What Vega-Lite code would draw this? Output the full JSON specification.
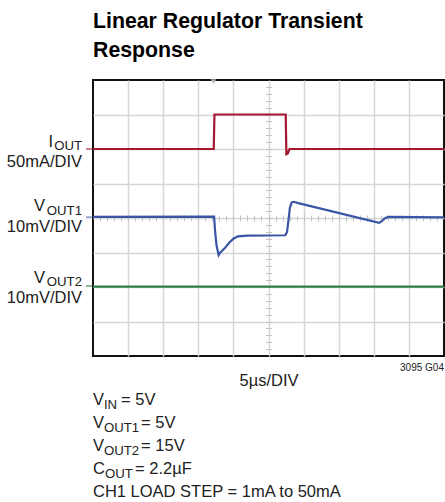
{
  "$schema": "https://vega.github.io/schema/vega-lite/v6.json",
  "width": 351,
  "height": 276,
  "autosize": "none",
  "padding": {"left": 93, "top": 80, "right": 1, "bottom": 146},
  "background": "white",
  "config": {
    "view": {"stroke": "#111111", "strokeWidth": 2},
    "text": {"font": "Liberation Sans, Arial, sans-serif", "color": "#222222", "baseline": "alphabetic"}
  },
  "datasets": {
    "traces": [
      {"ch": "IOUT", "t": 0, "v": 6.0},
      {"ch": "IOUT", "t": 3.44, "v": 6.0},
      {"ch": "IOUT", "t": 3.46, "v": 7.0},
      {"ch": "IOUT", "t": 5.49, "v": 7.0},
      {"ch": "IOUT", "t": 5.51, "v": 5.85},
      {"ch": "IOUT", "t": 5.55, "v": 5.87},
      {"ch": "IOUT", "t": 5.6, "v": 6.0},
      {"ch": "IOUT", "t": 10, "v": 6.0},
      {"ch": "VOUT1", "t": 0, "v": 4.03},
      {"ch": "VOUT1", "t": 3.45, "v": 4.04},
      {"ch": "VOUT1", "t": 3.48, "v": 3.6},
      {"ch": "VOUT1", "t": 3.52, "v": 3.2},
      {"ch": "VOUT1", "t": 3.58, "v": 2.92},
      {"ch": "VOUT1", "t": 3.63, "v": 3.0},
      {"ch": "VOUT1", "t": 3.75, "v": 3.12},
      {"ch": "VOUT1", "t": 3.88, "v": 3.28},
      {"ch": "VOUT1", "t": 4.0, "v": 3.4},
      {"ch": "VOUT1", "t": 4.13, "v": 3.47},
      {"ch": "VOUT1", "t": 4.4, "v": 3.49},
      {"ch": "VOUT1", "t": 5.48, "v": 3.5},
      {"ch": "VOUT1", "t": 5.53, "v": 3.6},
      {"ch": "VOUT1", "t": 5.57, "v": 3.95},
      {"ch": "VOUT1", "t": 5.61, "v": 4.3},
      {"ch": "VOUT1", "t": 5.66, "v": 4.45},
      {"ch": "VOUT1", "t": 5.72, "v": 4.47},
      {"ch": "VOUT1", "t": 5.85, "v": 4.43},
      {"ch": "VOUT1", "t": 8.15, "v": 3.86},
      {"ch": "VOUT1", "t": 8.22, "v": 3.9},
      {"ch": "VOUT1", "t": 8.3, "v": 3.98},
      {"ch": "VOUT1", "t": 8.4, "v": 4.03},
      {"ch": "VOUT1", "t": 10, "v": 4.02},
      {"ch": "VOUT2", "t": 0, "v": 2.01},
      {"ch": "VOUT2", "t": 10, "v": 2.01}
    ]
  },
  "layer": [
    {
      "data": {"name": "traces"},
      "mark": {"type": "line", "strokeWidth": 2.2, "interpolate": "linear"},
      "encoding": {
        "x": {
          "field": "t", "type": "quantitative",
          "scale": {"domain": [0, 10], "nice": false, "zero": false},
          "axis": {"orient": "bottom", "values": [1, 2, 3, 4, 5, 6, 7, 8, 9], "grid": true, "gridColor": "#d6d6d6", "gridWidth": 1.5, "domain": false, "ticks": false, "labels": false,
            "title": "5µs/DIV", "titleFont": "Liberation Sans, Arial, sans-serif", "titleFontSize": 16.5, "titleFontWeight": "normal", "titleColor": "#222222", "titlePadding": 16}
        },
        "y": {
          "field": "v", "type": "quantitative",
          "scale": {"domain": [0, 8], "nice": false, "zero": false},
          "axis": {"orient": "left", "values": [1, 2, 3, 4, 5, 6, 7], "grid": true, "gridColor": "#d6d6d6", "gridWidth": 1.5, "domain": false, "ticks": false, "labels": false, "title": null}
        },
        "color": {
          "field": "ch", "type": "nominal",
          "scale": {"domain": ["IOUT", "VOUT1", "VOUT2"], "range": ["#a3172f", "#3a55a5", "#2f7f47"]},
          "legend": null
        }
      }
    },
    {
      "data": {"values": [{}]},
      "mark": {"type": "point", "shape": "triangle-down", "filled": true, "color": "#b5b5b5", "size": 30, "opacity": 1},
      "encoding": {
        "x": {"datum": 3.43, "type": "quantitative",
          "axis": {"orient": "top", "offset": -141, "values": [0.2,0.4,0.6,0.8,1,1.2,1.4,1.6,1.8,2,2.2,2.4,2.6,2.8,3,3.2,3.4,3.6,3.8,4,4.2,4.4,4.6,4.8,5,5.2,5.4,5.6,5.8,6,6.2,6.4,6.6,6.8,7,7.2,7.4,7.6,7.8,8,8.2,8.4,8.6,8.8,9,9.2,9.4,9.6,9.8], "grid": false, "domain": false, "labels": false, "ticks": true, "tickSize": 6, "tickColor": "#c4c4c4", "tickWidth": 1, "title": null}},
        "y": {"datum": 7.95, "type": "quantitative",
          "axis": {"orient": "right", "offset": -178.5, "values": [0.2,0.4,0.6,0.8,1,1.2,1.4,1.6,1.8,2,2.2,2.4,2.6,2.8,3,3.2,3.4,3.6,3.8,4,4.2,4.4,4.6,4.8,5,5.2,5.4,5.6,5.8,6,6.2,6.4,6.6,6.8,7,7.2,7.4,7.6,7.8], "grid": false, "domain": false, "labels": false, "ticks": true, "tickSize": 6, "tickColor": "#c4c4c4", "tickWidth": 1, "title": null}}
      }
    },
    {
      "data": {"values": [{"ch": "IOUT", "v": 6.0}, {"ch": "VOUT1", "v": 4.02}, {"ch": "VOUT2", "v": 2.03}]},
      "mark": {"type": "rule", "strokeWidth": 2, "opacity": 0.55},
      "encoding": {
        "x": {"datum": -0.2, "type": "quantitative", "axis": null},
        "x2": {"datum": -0.03},
        "y": {"field": "v", "type": "quantitative", "axis": null},
        "color": {"field": "ch", "type": "nominal", "legend": null}
      }
    },
    {"data": {"values": [{}]}, "mark": {"type": "text", "text": "Linear Regulator Transient", "align": "left", "fontSize": 21.3, "fontWeight": "bold", "color": "#000000"},
      "encoding": {"x": {"datum": 0, "type": "quantitative", "axis": null}, "y": {"datum": 9.507, "type": "quantitative", "axis": null}}},
    {"data": {"values": [{}]}, "mark": {"type": "text", "text": "Response", "align": "left", "fontSize": 21.3, "fontWeight": "bold", "color": "#000000"},
      "encoding": {"x": {"datum": 0, "type": "quantitative", "axis": null}, "y": {"datum": 8.667, "type": "quantitative", "axis": null}}},
    {"data": {"values": [{}]}, "mark": {"type": "text", "text": "I", "align": "right", "fontSize": 16.5},
      "encoding": {"x": {"datum": -1.14, "type": "quantitative", "axis": null}, "y": {"datum": 6.07, "type": "quantitative", "axis": null}}},
    {"data": {"values": [{}]}, "mark": {"type": "text", "text": "OUT", "align": "right", "fontSize": 13.2},
      "encoding": {"x": {"datum": -0.313, "type": "quantitative", "axis": null}, "y": {"datum": 5.97, "type": "quantitative", "axis": null}}},
    {"data": {"values": [{}]}, "mark": {"type": "text", "text": "50mA/DIV", "align": "right", "fontSize": 16.5},
      "encoding": {"x": {"datum": -0.313, "type": "quantitative", "axis": null}, "y": {"datum": 5.49, "type": "quantitative", "axis": null}}},
    {"data": {"values": [{}]}, "mark": {"type": "text", "text": "V", "align": "right", "fontSize": 16.5},
      "encoding": {"x": {"datum": -1.37, "type": "quantitative", "axis": null}, "y": {"datum": 4.2, "type": "quantitative", "axis": null}}},
    {"data": {"values": [{}]}, "mark": {"type": "text", "text": "OUT1", "align": "right", "fontSize": 13.2},
      "encoding": {"x": {"datum": -0.313, "type": "quantitative", "axis": null}, "y": {"datum": 4.1, "type": "quantitative", "axis": null}}},
    {"data": {"values": [{}]}, "mark": {"type": "text", "text": "10mV/DIV", "align": "right", "fontSize": 16.5},
      "encoding": {"x": {"datum": -0.313, "type": "quantitative", "axis": null}, "y": {"datum": 3.6, "type": "quantitative", "axis": null}}},
    {"data": {"values": [{}]}, "mark": {"type": "text", "text": "V", "align": "right", "fontSize": 16.5},
      "encoding": {"x": {"datum": -1.37, "type": "quantitative", "axis": null}, "y": {"datum": 2.11, "type": "quantitative", "axis": null}}},
    {"data": {"values": [{}]}, "mark": {"type": "text", "text": "OUT2", "align": "right", "fontSize": 13.2},
      "encoding": {"x": {"datum": -0.313, "type": "quantitative", "axis": null}, "y": {"datum": 2.02, "type": "quantitative", "axis": null}}},
    {"data": {"values": [{}]}, "mark": {"type": "text", "text": "10mV/DIV", "align": "right", "fontSize": 16.5},
      "encoding": {"x": {"datum": -0.313, "type": "quantitative", "axis": null}, "y": {"datum": 1.53, "type": "quantitative", "axis": null}}},
    {"data": {"values": [{}]}, "mark": {"type": "text", "text": "3095 G04", "align": "right", "fontSize": 10},
      "encoding": {"x": {"datum": 10.0, "type": "quantitative", "axis": null}, "y": {"datum": -0.435, "type": "quantitative", "axis": null}}},
    {"data": {"values": [{}]}, "mark": {"type": "text", "text": "V", "align": "left", "fontSize": 16.5},
      "encoding": {"x": {"datum": 0, "type": "quantitative", "axis": null}, "y": {"datum": -1.42, "type": "quantitative", "axis": null}}},
    {"data": {"values": [{}]}, "mark": {"type": "text", "text": "IN", "align": "left", "fontSize": 13.2},
      "encoding": {"x": {"datum": 0.31, "type": "quantitative", "axis": null}, "y": {"datum": -1.536, "type": "quantitative", "axis": null}}},
    {"data": {"values": [{}]}, "mark": {"type": "text", "text": "= 5V", "align": "left", "fontSize": 16.5},
      "encoding": {"x": {"datum": 0.8, "type": "quantitative", "axis": null}, "y": {"datum": -1.42, "type": "quantitative", "axis": null}}},
    {"data": {"values": [{}]}, "mark": {"type": "text", "text": "V", "align": "left", "fontSize": 16.5},
      "encoding": {"x": {"datum": 0, "type": "quantitative", "axis": null}, "y": {"datum": -2.087, "type": "quantitative", "axis": null}}},
    {"data": {"values": [{}]}, "mark": {"type": "text", "text": "OUT1", "align": "left", "fontSize": 13.2},
      "encoding": {"x": {"datum": 0.31, "type": "quantitative", "axis": null}, "y": {"datum": -2.203, "type": "quantitative", "axis": null}}},
    {"data": {"values": [{}]}, "mark": {"type": "text", "text": "= 5V", "align": "left", "fontSize": 16.5},
      "encoding": {"x": {"datum": 1.37, "type": "quantitative", "axis": null}, "y": {"datum": -2.087, "type": "quantitative", "axis": null}}},
    {"data": {"values": [{}]}, "mark": {"type": "text", "text": "V", "align": "left", "fontSize": 16.5},
      "encoding": {"x": {"datum": 0, "type": "quantitative", "axis": null}, "y": {"datum": -2.754, "type": "quantitative", "axis": null}}},
    {"data": {"values": [{}]}, "mark": {"type": "text", "text": "OUT2", "align": "left", "fontSize": 13.2},
      "encoding": {"x": {"datum": 0.31, "type": "quantitative", "axis": null}, "y": {"datum": -2.87, "type": "quantitative", "axis": null}}},
    {"data": {"values": [{}]}, "mark": {"type": "text", "text": "= 15V", "align": "left", "fontSize": 16.5},
      "encoding": {"x": {"datum": 1.37, "type": "quantitative", "axis": null}, "y": {"datum": -2.754, "type": "quantitative", "axis": null}}},
    {"data": {"values": [{}]}, "mark": {"type": "text", "text": "C", "align": "left", "fontSize": 16.5},
      "encoding": {"x": {"datum": 0, "type": "quantitative", "axis": null}, "y": {"datum": -3.42, "type": "quantitative", "axis": null}}},
    {"data": {"values": [{}]}, "mark": {"type": "text", "text": "OUT", "align": "left", "fontSize": 13.2},
      "encoding": {"x": {"datum": 0.34, "type": "quantitative", "axis": null}, "y": {"datum": -3.536, "type": "quantitative", "axis": null}}},
    {"data": {"values": [{}]}, "mark": {"type": "text", "text": "= 2.2µF", "align": "left", "fontSize": 16.5},
      "encoding": {"x": {"datum": 1.2, "type": "quantitative", "axis": null}, "y": {"datum": -3.42, "type": "quantitative", "axis": null}}},
    {"data": {"values": [{}]}, "mark": {"type": "text", "text": "CH1 LOAD STEP = 1mA to 50mA", "align": "left", "fontSize": 16.5},
      "encoding": {"x": {"datum": 0, "type": "quantitative", "axis": null}, "y": {"datum": -4.087, "type": "quantitative", "axis": null}}}
  ]
}
